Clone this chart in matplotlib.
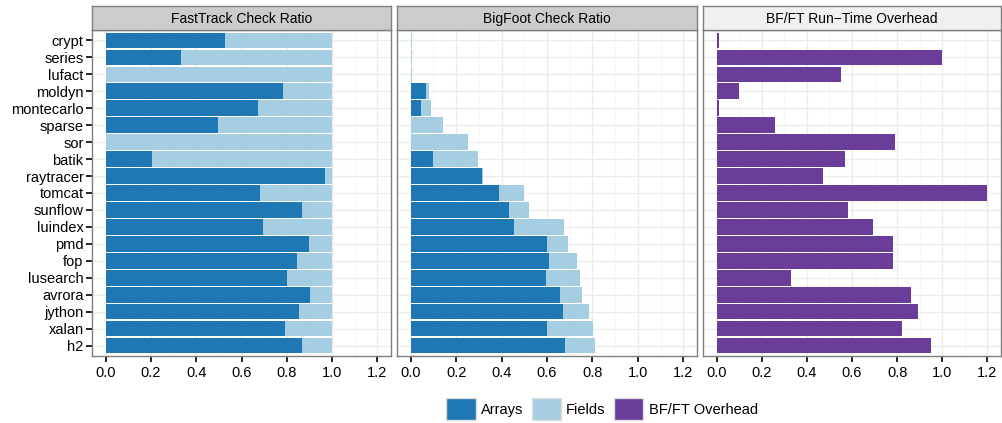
import matplotlib
matplotlib.use('Agg')
import matplotlib.pyplot as plt
from matplotlib.patches import Patch
import numpy as np

plt.rcParams['font.family'] = ['Liberation Sans', 'DejaVu Sans']

AR = '#1F78B4'; FD = '#A6CEE3'; OV = '#6A3D9A'
BRD = '#7F7F7F'; GMAJ = '#EBEBEB'; GMIN = '#F7F7F7'

benchmarks = ['crypt', 'series', 'lufact', 'moldyn', 'montecarlo', 'sparse', 'sor',
              'batik', 'raytracer', 'tomcat', 'sunflow', 'luindex', 'pmd', 'fop',
              'lusearch', 'avrora', 'jython', 'xalan', 'h2']

ft_arrays = [0.525, 0.335, 0.0, 0.785, 0.675, 0.498, 0.004, 0.203, 0.97, 0.68,
             0.869, 0.693, 0.90, 0.843, 0.803, 0.904, 0.856, 0.794, 0.869]
ft_fields = [0.475, 0.665, 1.0, 0.215, 0.325, 0.502, 0.996, 0.797, 0.03, 0.32,
             0.131, 0.307, 0.10, 0.157, 0.197, 0.096, 0.144, 0.206, 0.131]

bf_arrays = [0.0, 0.0, 0.0, 0.066, 0.044, 0.0, 0.0, 0.097, 0.314, 0.389,
             0.433, 0.455, 0.601, 0.61, 0.596, 0.658, 0.672, 0.601, 0.68]
bf_fields = [0.004, 0.004, 0.004, 0.014, 0.044, 0.141, 0.252, 0.199, 0.004, 0.11,
             0.088, 0.221, 0.093, 0.123, 0.151, 0.098, 0.114, 0.203, 0.133]

overhead = [0.013, 1.0, 0.551, 0.101, 0.013, 0.26, 0.79, 0.569, 0.472, 1.2,
            0.582, 0.693, 0.781, 0.781, 0.331, 0.86, 0.891, 0.82, 0.949]

titles = ['FastTrack Check Ratio', 'BigFoot Check Ratio', 'BF/FT Run\u2212Time Overhead']
strip_bg = ['#CCCCCC', '#CCCCCC', '#F0F0F0']
xticks = [0.0, 0.2, 0.4, 0.6, 0.8, 1.0, 1.2]

W, H = 1002, 423
fig = plt.figure(figsize=(W/100, H/100), dpi=100)
fig.patch.set_facecolor('white')

lefts = [92, 397, 703]; rights = [391, 697, 1001]
top, bot, stop = 30, 356, 6
y = np.arange(len(benchmarks))

axes = []
for i in range(3):
    ax = fig.add_axes([lefts[i]/W, (H-bot)/H, (rights[i]-lefts[i])/W, (bot-top)/H])
    axes.append(ax)
    ax.set_xlim(-0.06, 1.26); ax.set_ylim(len(benchmarks)-0.4, -0.6)
    for v in np.arange(0.1, 1.3, 0.2):
        ax.axvline(v, color=GMIN, lw=0.8, zorder=0)
    for v in xticks:
        ax.axvline(v, color=GMAJ, lw=1.0, zorder=0)
    for v in y:
        ax.axhline(v, color=GMAJ, lw=1.0, zorder=0)
    ax.set_xticks(xticks)
    ax.set_xticklabels([f'{v:.1f}' for v in xticks])
    ax.set_yticks(y)
    ax.tick_params(axis='both', labelsize=10.5, colors='black', length=4, width=1.2, pad=2)
    ax.tick_params(axis='x', pad=3)
    if i == 0:
        ax.set_yticklabels(benchmarks)
    else:
        ax.set_yticklabels([])
        ax.tick_params(axis='y', length=0)
    for s in ax.spines.values():
        s.set_color(BRD); s.set_linewidth(1.0)
    # strip
    sax = fig.add_axes([lefts[i]/W, (H-top)/H, (rights[i]-lefts[i])/W, (top-stop)/H])
    sax.set_facecolor(strip_bg[i]); sax.set_xticks([]); sax.set_yticks([])
    for s in sax.spines.values():
        s.set_color(BRD); s.set_linewidth(1.0)
    sax.text(0.5, 0.45, titles[i], ha='center', va='center', fontsize=10, transform=sax.transAxes)

h = 0.9
axes[0].barh(y, ft_arrays, height=h, color=AR, zorder=2)
axes[0].barh(y, ft_fields, left=ft_arrays, height=h, color=FD, zorder=2)
axes[1].barh(y, bf_arrays, height=h, color=AR, zorder=2)
axes[1].barh(y, bf_fields, left=bf_arrays, height=h, color=FD, zorder=2)
axes[2].barh(y, overhead, height=h, color=OV, zorder=2)

handles = [Patch(facecolor=AR, edgecolor='#DDDDDD', label='Arrays'),
           Patch(facecolor=FD, edgecolor='#DDDDDD', label='Fields'),
           Patch(facecolor=OV, edgecolor='#DDDDDD', label='BF/FT Overhead')]
fig.legend(handles=handles, loc='center', bbox_to_anchor=(602/W, (H-409)/H), ncol=3,
           frameon=False, fontsize=10.5, handlelength=2.0, handleheight=2.0,
           handletextpad=0.35, columnspacing=0.6, borderpad=0)

fig.savefig('out.png', dpi=100, facecolor='white')
